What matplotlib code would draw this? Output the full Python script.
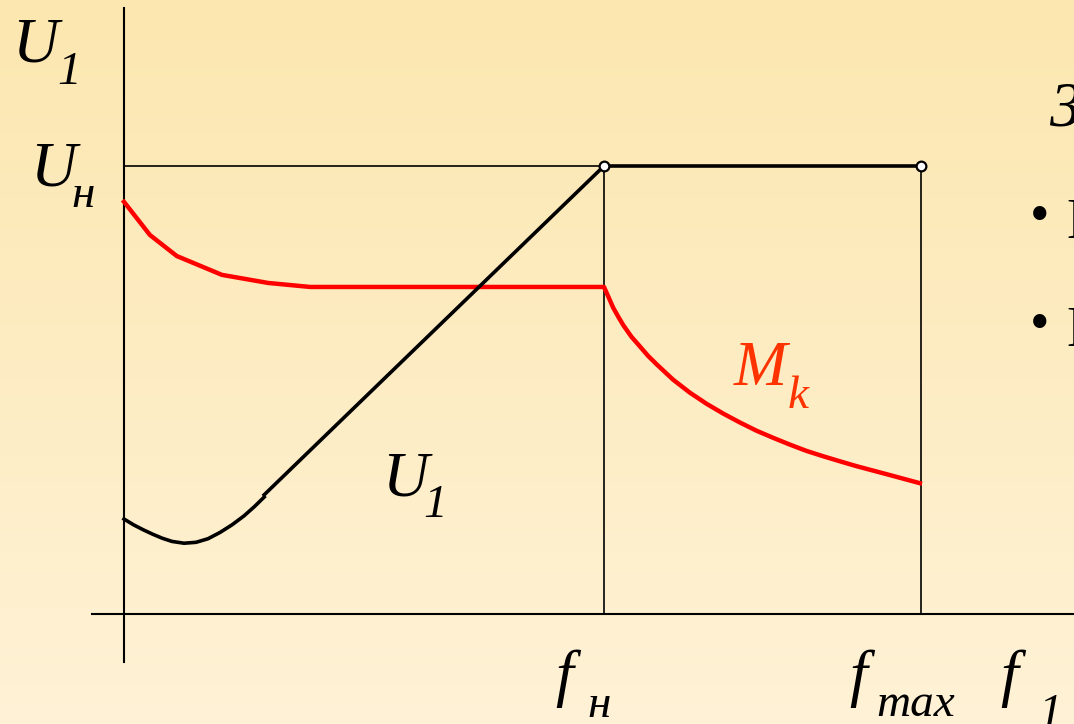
import matplotlib.pyplot as plt
import numpy as np

# frequency in units of f_nom, voltage / torque in units of U_nom
f_nom = 1.0
f_max = 1.66
U_nom = 1.0

# U1(f1): low-frequency boost curve, then linear rise, then constant
u_low_f = [0.0, 0.020, 0.040, 0.060, 0.080, 0.100, 0.125, 0.150, 0.175,
           0.200, 0.225, 0.250, 0.272, 0.292]
u_low_v = [0.212, 0.199, 0.188, 0.178, 0.169, 0.162, 0.158, 0.160, 0.168,
           0.182, 0.199, 0.219, 0.240, 0.261]
u_lin_f = [0.292, f_nom]
u_lin_v = [0.266, U_nom]
u_top_f = [f_nom, f_max]
u_top_v = [U_nom, U_nom]

# Mk(f1)
mk_f = [0.0, 0.054, 0.110, 0.204, 0.300, 0.3875, 1.0, 1.010, 1.019, 1.030,
        1.040, 1.057, 1.075, 1.092, 1.110, 1.144, 1.179, 1.214, 1.249, 1.284,
        1.318, 1.353, 1.3875, 1.422, 1.457, 1.491, 1.526, 1.561, 1.596,
        1.627, 1.658]
mk_v = [0.920, 0.846, 0.799, 0.757, 0.739, 0.730, 0.730, 0.706, 0.684, 0.663,
        0.645, 0.619, 0.597, 0.576, 0.557, 0.523, 0.494, 0.469, 0.447, 0.427,
        0.409, 0.393, 0.378, 0.364, 0.352, 0.341, 0.330, 0.320, 0.310,
        0.301, 0.292]

W, H = 1074, 724
fig = plt.figure(figsize=(W / 100, H / 100), dpi=100)

# background gradient
bg = fig.add_axes([0, 0, 1, 1])
top = np.array([252, 231, 176]) / 255
bot = np.array([255, 242, 214]) / 255
t = np.linspace(0, 1, 256)[:, None]
grad = top[None, :] * (1 - t) + bot[None, :] * t
bg.imshow(grad[:, None, :], aspect='auto', extent=[0, 1, 0, 1])
bg.axis('off')

ax = fig.add_axes([0, 0, 1, 1])
ax.patch.set_alpha(0)
ax.set_xlim((0 - 124) / 480, (W - 124) / 480)
ax.set_ylim((614 - H) / 448, 614 / 448)
ax.axis('off')

# axes and guide lines
ax.plot([0, 0], [-0.107, 1.353], color='black', lw=1.5)
ax.plot([-0.067, 2.0], [0, 0], color='black', lw=1.5)
ax.plot([0, f_nom], [U_nom, U_nom], color='black', lw=1.2)
ax.plot([f_nom, f_nom], [0, U_nom], color='black', lw=1.2)
ax.plot([f_max, f_max], [0, U_nom], color='black', lw=1.2)

# curves
ax.plot(mk_f, mk_v, color='#ff0000', lw=3.2)
ax.plot(u_low_f, u_low_v, color='black', lw=2.6)
ax.plot(u_lin_f, u_lin_v, color='black', lw=2.6)
ax.plot(u_top_f, u_top_v, color='black', lw=2.6)
ax.plot(u_top_f, u_top_v, 'o', ms=7, mfc='white', mec='black', mew=1.6, zorder=5)

serif = 'Liberation Serif'


def label(x, y, s, size, color='black', style='italic'):
    fig.text(x / W, 1 - y / H, s, fontsize=size, family=serif, style=style,
             color=color, ha='left', va='baseline')


big, small = 46, 34
label(12, 62, 'U', big)
label(57, 84, '1', small)
label(30, 185, 'U', big)
label(71, 207, 'н', small)
label(382, 495, 'U', big)
label(423, 517, '1', small)
label(555, 694, 'f', big)
label(587, 717, 'н', small)
label(849, 694, 'f', big)
label(876, 716, 'max', small)
label(1000, 694, 'f', big)
label(1038, 726, '1', small)
label(734, 385, 'M', big, color='#ff3300')
label(788, 408, 'k', small, color='#ff3300')

# cut-off slide text at the right edge
label(1050, 125, 'З', big)
label(1030, 232, '•', 40, style='normal')
label(1030, 340, '•', 40, style='normal')
label(1066, 238, 'П', 40, style='normal')
label(1066, 346, 'П', 40, style='normal')

fig.savefig('out.png', dpi=100)
